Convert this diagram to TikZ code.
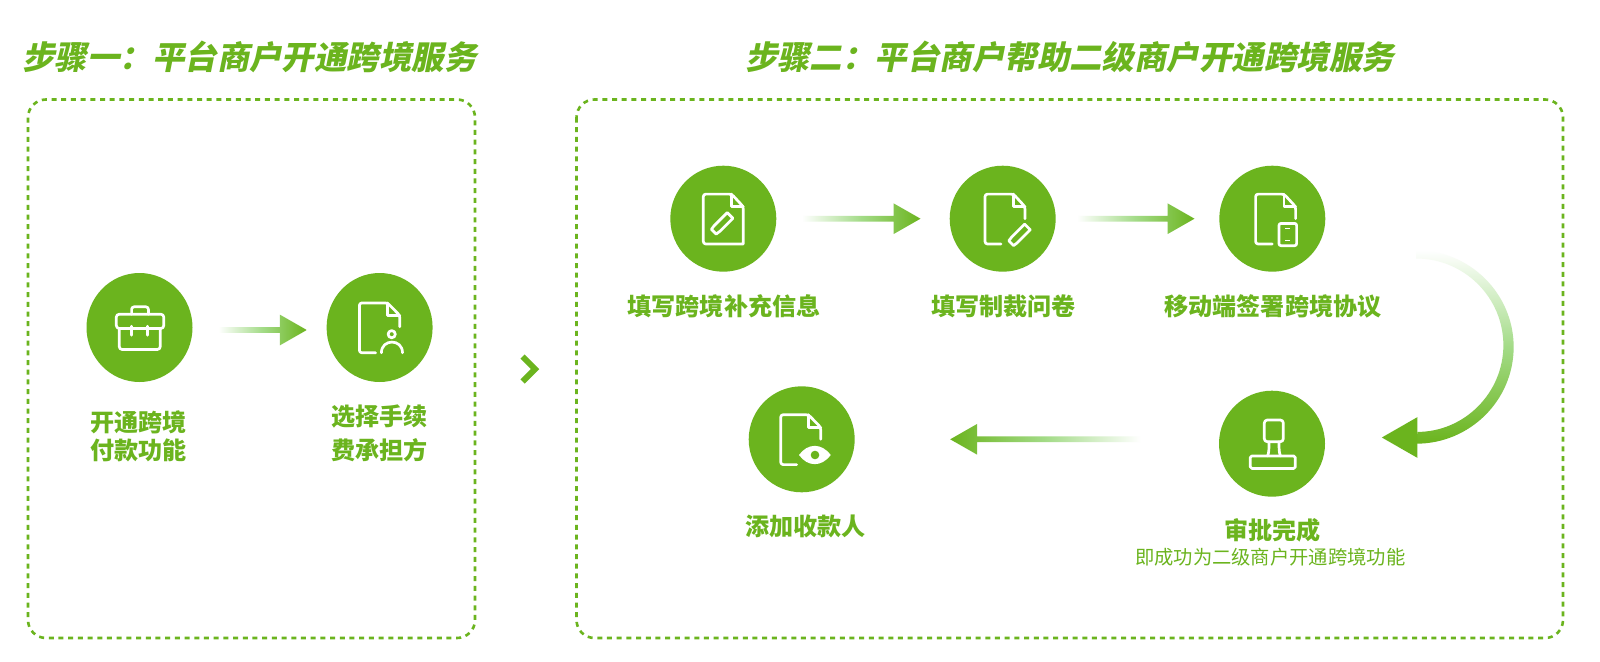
\documentclass[tikz,border=0pt]{standalone}
\usepackage{fontspec}
\usetikzlibrary{calc,shapes.geometric}
\setmainfont{Noto Sans CJK SC}
\newfontfamily\headfont[FakeSlant=0.2]{Noto Sans CJK SC}
\definecolor{leaf}{HTML}{6BB41E}
\definecolor{leafmid}{HTML}{A3DB87}

\tikzset{
  stepdot/.style={circle,fill=leaf,draw=none,minimum size=106pt,inner sep=0pt},
  stepoval/.style={ellipse,fill=leaf,draw=none,minimum width=106pt,minimum height=109pt,inner sep=0pt},
  frame/.style={draw=leaf,line width=2.6pt,dash pattern=on 5pt off 4.7pt,rounded corners=18pt},
  heading/.style={text=leaf,inner sep=0pt,font=\headfont\bfseries\fontsize{32.45}{38}\selectfont},
  caption/.style={text=leaf,inner sep=0pt,align=center,font=\bfseries\fontsize{24.1}{28}\selectfont},
  subcaption/.style={text=leaf,inner sep=0pt,font=\fontsize{19.3}{23}\selectfont},
  glyph/.style={draw=white,line width=2.7pt,line join=round,line cap=round},
}

% Document outline: left, right, fold x, end of the bottom edge, end of the right edge
\newcommand\docoutline[5]{%
  \draw[glyph,rounded corners=2.5pt] (#4,25.3) -- (#1,25.3) -- (#1,-24.6) -- (#3,-24.6) -- (#2,-12) -- (#2,#5);
  \draw[glyph] (#3,-24.6) -- (#3,-12) -- (#2,-12);
}
% Pencil pointing down-left, laid along a 45 degree axis from its tip
\newcommand\pencilglyph[2]{%
  \begin{scope}[shift={(#1,#2)},rotate=45]
    \draw[glyph] (0,-3.4) -- (4.5,-4) -- (23,-4) -- (23,4) -- (4.5,4) -- (0,3.4) -- cycle;
  \end{scope}
}
% Horizontal connector whose shaft fades out toward its start
\newcommand\flowarrow[3][left color=white,right color=leaf,middle color=leafmid]{%
  \shade[#1] let \p1=(#2),\p2=(#3),\p3=($(#3)!27pt!(#2)$) in
    (\x1,\y1+2.9pt) -- (\x3,\y1+2.9pt) -- (\x3,\y1+15.4pt) -- (\x2,\y1)
    -- (\x3,\y1-15.4pt) -- (\x3,\y1-2.9pt) -- (\x1,\y1-2.9pt) -- cycle;
}

\begin{document}
\begin{tikzpicture}[x=1pt,y=-1pt]
\path[fill=white,use as bounding box] (0,0) rectangle (1600,661);

% Section headings
\node[heading,anchor=center] (titleA) at (249.5,56.5) {步骤一：平台商户开通跨境服务};
\node[heading,anchor=center] (titleB) at (1069.5,56.5) {步骤二：平台商户帮助二级商户开通跨境服务};

% Dashed frames
\draw[frame] (28,99.5) rectangle (475,638);
\draw[frame] (576.5,99.5) rectangle (1563,638);

% Step discs
\node[stepoval] (cOpen) at (139.5,327.5) {};
\node[stepoval] (cFee) at (379.6,327.5) {};
\node[stepdot] (cFill) at (723.3,218.7) {};
\node[stepdot] (cSurvey) at (1002.7,218.7) {};
\node[stepdot] (cSign) at (1272.3,218.7) {};
\node[stepdot] (cStamp) at (1272,443.7) {};
\node[stepdot] (cPayee) at (801.7,439.3) {};

% Captions
\node[caption] (tOpenA) at (138.6,422.7) {开通跨境};
\node[caption] (tOpenB) at (138.6,450) {付款功能};
\node[caption] (tFeeA) at (379.4,416.2) {选择手续};
\node[caption] (tFeeB) at (379.4,450) {费承担方};
\node[caption] (tFill) at (724,306) {填写跨境补充信息};
\node[caption] (tSurvey) at (1003.6,306) {填写制裁问卷};
\node[caption] (tSign) at (1273,306) {移动端签署跨境协议};
\node[caption] (tPayee) at (805.4,526) {添加收款人};
\node[caption] (tStamp) at (1272.7,530) {审批完成};
\node[subcaption] (tStampSub) at (1270.2,556.7) {即成功为二级商户开通跨境功能};

% Briefcase
\begin{scope}[shift={(cOpen.center)}]
  \draw[glyph,rounded corners=2.5pt] (-7.9,-13.3) -- (-7.9,-20.7) -- (8.9,-20.7) -- (8.9,-13.3);
  \draw[glyph,rounded corners=3pt] (-23.2,-13.3) rectangle (24.3,1);
  \draw[glyph,rounded corners=3pt] (-20.3,1) -- (-20.3,22) -- (20.8,22) -- (20.8,1);
  \draw[glyph] (-8.2,-1.3) -- (-8.2,7.7);
  \draw[glyph] (8.2,-1.3) -- (8.2,7.7);
\end{scope}

% Document with person
\begin{scope}[shift={(cFee.center)}]
  \docoutline{-20.2}{20.2}{7.9}{-4}{-0.7}
  \draw[glyph] (12.1,6.7) circle (3.6);
  \draw[glyph] (1.8,25.3) .. controls (1.8,11) and (22.9,11) .. (22.9,25.3);
\end{scope}

% Document with pencil inside
\begin{scope}[shift={(cFill.center)}]
  \docoutline{-20}{20}{8.3}{20}{25.3}
  \pencilglyph{-9.5}{13}
\end{scope}

% Document with pencil beside it
\begin{scope}[shift={(cSurvey.center)}]
  \docoutline{-17.7}{22.3}{10.7}{-1.7}{0}
  \pencilglyph{8.5}{24.5}
\end{scope}

% Document with phone
\begin{scope}[shift={(cSign.center)}]
  \docoutline{-16.7}{23.3}{11.7}{0}{0}
  \draw[glyph,rounded corners=2pt] (6.7,4.7) rectangle (24.3,27);
  \draw[draw=white,line width=1.4pt] (12.9,9.7) -- (17.7,9.7);
  \draw[draw=white,line width=1.4pt] (12.9,22) -- (17.7,22);
\end{scope}

% Stamp
\begin{scope}[shift={(cStamp.center)}]
  \draw[glyph,rounded corners=3pt] (-7.7,-2) -- (-7.7,-23.7) -- (11.3,-23.7) -- (11.3,-2) -- cycle;
  \draw[glyph] (-3,-2) .. controls (-3,5) and (-3,9) .. (-4.5,12.3);
  \draw[glyph] (7,-2) .. controls (7,5) and (7,9) .. (8.5,12.3);
  \draw[glyph,rounded corners=1.5pt] (-21.7,12.3) rectangle (23.3,24.7);
\end{scope}

% Document with eye
\begin{scope}[shift={(cPayee.center)}]
  \docoutline{-21}{19}{6.7}{-5}{0}
  \fill[white] (-2.7,15.7) .. controls (6,3.5) and (20,3.5) .. (29,15.7)
    .. controls (20,27.9) and (6,27.9) .. (-2.7,15.7) -- cycle;
  \fill[leaf] (13.3,15.7) circle (4.3);
\end{scope}

% Connectors between the steps
\coordinate (openOut) at ($(cOpen.east)+(25.7,2.5)$);
\coordinate (feeIn) at ($(cFee.west)+(-19.6,2.5)$);
\flowarrow{openOut}{feeIn}

\coordinate (fillOut) at ($(cFill.east)+(25.4,0)$);
\coordinate (surveyIn) at ($(cSurvey.west)+(-29,0)$);
\flowarrow{fillOut}{surveyIn}

\coordinate (surveyOut) at ($(cSurvey.east)+(21,0)$);
\coordinate (signIn) at ($(cSign.west)+(-24.6,0)$);
\flowarrow{surveyOut}{signIn}

\coordinate (stampOut) at ($(cStamp.west)+(-78.3,-4.4)$);
\coordinate (payeeIn) at ($(cPayee.east)+(95.3,0)$);
\flowarrow[left color=leaf,right color=white,middle color=leafmid]{stampOut}{payeeIn}

% Curved connector from the third step down to the stamp step
\coordinate (bendAxis) at ($(cSign)!.5!(cStamp)+(144,14)$);
\begin{scope}[shift={(bendAxis)}]
  \shade[top color=white,bottom color=leaf,middle color=leafmid]
    (0,-95) .. controls (53.6,-95) and (97.5,-51.6) .. (97.5,1.8)
    .. controls (97.5,55.2) and (53.6,98.5) .. (0,98.5)
    -- (1.3,86.7) .. controls (48,86.7) and (87.2,47.9) .. (87.2,0)
    .. controls (87.2,-47.9) and (47.9,-86.7) .. (0,-86.7) -- cycle;
  \fill[leaf] (1.3,71.9) -- (1.3,112.7) -- (-34.3,92.3) -- cycle;
\end{scope}

% Chevron between the two stages
\coordinate (chevTop) at (522.5,356.5);
\coordinate (chevTip) at (535,369);
\coordinate (chevEnd) at (522.5,381.5);
\draw[leaf,line width=6pt,line join=miter] (chevTop) -- (chevTip) -- (chevEnd);
\end{tikzpicture}
\end{document}
